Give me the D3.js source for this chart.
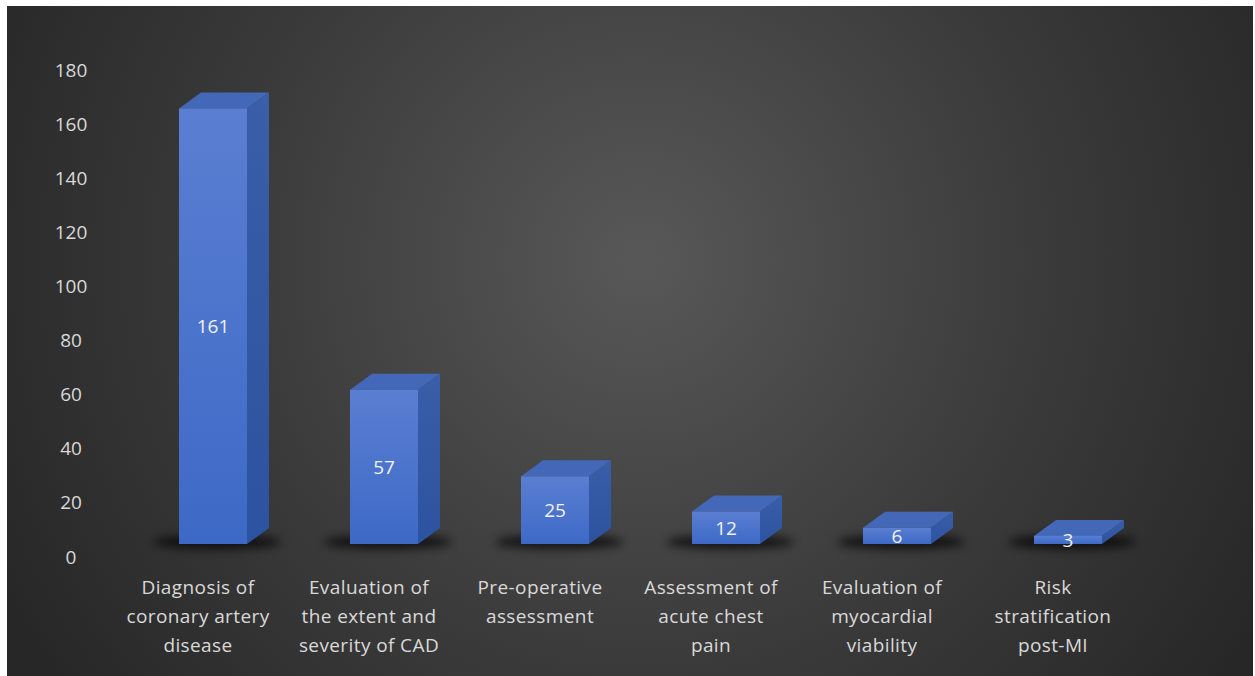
<!DOCTYPE html>
<html><head><meta charset="utf-8">
<script src="https://cdn.jsdelivr.net/npm/d3@7"></script>
<style>html,body{margin:0;padding:0;background:#fff;}svg{display:block;}</style>
</head><body>
<script>
const categories = [
  ["Diagnosis of","coronary artery","disease"],
  ["Evaluation of","the extent and","severity of CAD"],
  ["Pre-operative","assessment"],
  ["Assessment of","acute chest","pain"],
  ["Evaluation of","myocardial","viability"],
  ["Risk","stratification","post-MI"]
];
const values = [161, 57, 25, 12, 6, 3];
const yTicks = [0,20,40,60,80,100,120,140,160,180];

const W = 1255, H = 676;
const svg = d3.select("body").append("svg").attr("width", W).attr("height", H);
const defs = svg.append("defs");

const bg = defs.append("radialGradient").attr("id","bg")
  .attr("gradientUnits","userSpaceOnUse").attr("cx",640).attr("cy",260).attr("r",720);
bg.append("stop").attr("offset","0").attr("stop-color","#585858");
bg.append("stop").attr("offset","0.55").attr("stop-color","#3b3b3b");
bg.append("stop").attr("offset","1").attr("stop-color","#272727");

const fg = defs.append("linearGradient").attr("id","front").attr("x1",0).attr("x2",0).attr("y1",0).attr("y2",1);
fg.append("stop").attr("offset","0").attr("stop-color","#5a7fd2");
fg.append("stop").attr("offset","1").attr("stop-color","#3d69c6");
const sg = defs.append("linearGradient").attr("id","side").attr("x1",0).attr("x2",0).attr("y1",0).attr("y2",1);
sg.append("stop").attr("offset","0").attr("stop-color","#3a5ea8");
sg.append("stop").attr("offset","1").attr("stop-color","#2c53a0");
defs.append("filter").attr("id","blur").attr("x","-50%").attr("y","-200%").attr("width","200%").attr("height","500%")
  .append("feGaussianBlur").attr("stdDeviation",5);

svg.append("rect").attr("x",7).attr("y",6).attr("width",W-9).attr("height",H-6).attr("fill","url(#bg)");

const x = d3.scaleBand().domain(d3.range(categories.length)).range([112.5, 1138.5]);
const y = d3.scaleLinear().domain([0,180]).range([557, 70]);
const frontOff = -13;   // front face baseline offset relative to axis
const barW = 68, barShift = 15, dx = 22, dy = -16;
const FONT = "'Open Sans', sans-serif";

// Y axis labels
const yAxis = d3.axisLeft(y).tickValues(yTicks).tickSize(0).tickPadding(0);
const gy = svg.append("g").attr("transform","translate(71,0)").call(yAxis);
gy.select(".domain").remove();
gy.selectAll("text").attr("font-family",FONT).attr("font-size",19)
  .attr("fill","#d9d9d9").attr("text-anchor","middle");

// Bars
const bars = svg.append("g");
values.forEach((v,i) => {
  const cx = x(i) + x.bandwidth()/2 + barShift;
  const x0 = cx - barW/2, x1 = cx + barW/2;
  const yb = y(0) + frontOff, yt = y(v) + frontOff;
  const g = bars.append("g");
  g.append("ellipse").attr("cx", cx + 4).attr("cy", yb - 2).attr("rx", barW/2 + 30).attr("ry", 7)
    .attr("fill","#000").attr("opacity",0.7).attr("filter","url(#blur)");
  g.append("path").attr("d", `M${x1},${yt}L${x1+dx},${yt+dy}L${x1+dx},${yb+dy}L${x1},${yb}Z`).attr("fill","url(#side)");
  g.append("path").attr("d", `M${x0},${yt}L${x0+dx},${yt+dy}L${x1+dx},${yt+dy}L${x1},${yt}Z`).attr("fill","#4468b8");
  g.append("rect").attr("x",x0).attr("y",yt).attr("width",barW).attr("height",yb-yt).attr("fill","url(#front)");
  g.append("text").attr("x",cx).attr("y",(yt+yb)/2).attr("dy","0.36em").attr("text-anchor","middle")
    .attr("font-family",FONT).attr("font-size",19).attr("fill","#f2f2f2").text(v);
});

// X labels
const xl = svg.append("g");
categories.forEach((lines,i) => {
  const cx = x(i) + x.bandwidth()/2;
  const t = xl.append("text").attr("text-anchor","middle")
    .attr("font-family",FONT).attr("font-size",19).attr("letter-spacing","0.4px").attr("fill","#d9d9d9");
  lines.forEach((ln,k) => {
    t.append("tspan").attr("x",cx).attr("y",594 + k*29).text(ln);
  });
});
</script>
</body></html>
